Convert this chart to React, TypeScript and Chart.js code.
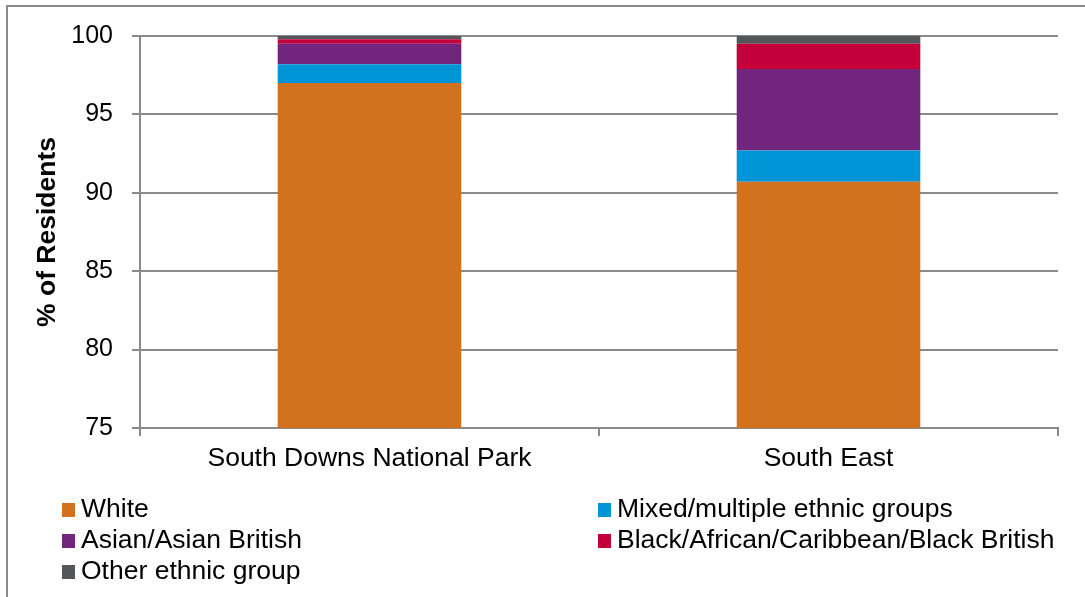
import React, { useEffect, useRef } from "react";
import { Chart, registerables } from "chart.js";

Chart.register(...registerables);

const categories = ["South Downs National Park", "South East"];
const seriesNames = [
  "White",
  "Mixed/multiple ethnic groups",
  "Asian/Asian British",
  "Black/African/Caribbean/Black British",
  "Other ethnic group",
];
const white = [97.0, 90.7];
const mixed = [1.2, 2.0];
const asian = [1.3, 5.2];
const black = [0.3, 1.6];
const other = [0.2, 0.5];
const seriesColors = ["#D2711E", "#0095D6", "#72257D", "#C3003A", "#53575A"];
const yTicks = [75, 80, 85, 90, 95, 100];

const FONT = "'Liberation Sans', Arial, sans-serif";

const framePlugin = {
  id: "frame",
  afterDraw(chart: any) {
    const ctx = chart.ctx;
    ctx.save();
    ctx.strokeStyle = "#8a8a8a";
    ctx.lineWidth = 2;
    ctx.beginPath();
    ctx.moveTo(7, chart.height);
    ctx.lineTo(7, 6);
    ctx.lineTo(chart.width, 6);
    ctx.stroke();

    // legend
    const cols = [62, 598];
    const rows = [509, 540, 571];
    ctx.font = `26.5px ${FONT}`;
    ctx.textBaseline = "middle";
    ctx.textAlign = "left";
    chart.data.datasets.forEach((ds: any, i: number) => {
      const x = cols[i % 2];
      const y = rows[Math.floor(i / 2)];
      ctx.fillStyle = ds.backgroundColor;
      ctx.fillRect(x, y - 6, 13, 14);
      ctx.fillStyle = "#000";
      ctx.fillText(ds.label, x + 19, y + 1);
    });
    ctx.restore();
  },
};

export default function App() {
  const ref = useRef<HTMLCanvasElement>(null);
  useEffect(() => {
    if (!ref.current) return;
    const data = [white, mixed, asian, black, other];
    const chart = new Chart(ref.current, {
      type: "bar",
      data: {
        labels: categories,
        datasets: seriesNames.map((name, i) => ({
          label: name,
          data: data[i],
          backgroundColor: seriesColors[i],
          borderWidth: 0,
          barPercentage: 0.4,
          categoryPercentage: 1,
        })),
      },
      options: {
        animation: false,
        responsive: false,
        layout: { padding: { left: 0, top: 36, right: 27, bottom: 0 } },
        plugins: {
          legend: { display: false },
          tooltip: { enabled: false },
        },
        scales: {
          x: {
            stacked: true,
            grid: {
              offset: true,
              drawOnChartArea: false,
              drawTicks: true,
              tickLength: 8,
              color: "#8a8a8a",
              lineWidth: 2,
            },
            border: { color: "#8a8a8a", width: 2 },
            ticks: {
              color: "#000",
              font: { family: FONT, size: 26.5 },
              padding: 7,
              maxRotation: 0,
            },
            afterFit: (s: any) => {
              s.height = 597 - 428;
            },
          },
          y: {
            stacked: true,
            min: 75,
            max: 100,
            afterBuildTicks: (s: any) => {
              s.ticks = yTicks.map((v) => ({ value: v }));
            },
            grid: {
              color: "#8a8a8a",
              lineWidth: 2,
              tickLength: 8,
            },
            border: { color: "#8a8a8a", width: 2 },
            ticks: {
              color: "#000",
              font: { family: FONT, size: 25 },
              padding: 19,
            },
            title: {
              display: true,
              text: "% of Residents",
              color: "#000",
              font: { family: FONT, size: 26.5, weight: "bold" },
              padding: { top: 32, bottom: 0 },
            },
            afterFit: (s: any) => {
              s.width = 140;
            },
          },
        },
      },
      plugins: [framePlugin],
    });
    return () => chart.destroy();
  }, []);
  return (
    <div style={{ position: "absolute", left: 0, top: 0, width: 1085, height: 597, background: "#fff" }}>
      <canvas ref={ref} width={1085} height={597} style={{ width: 1085, height: 597, display: "block" }} />
    </div>
  );
}
